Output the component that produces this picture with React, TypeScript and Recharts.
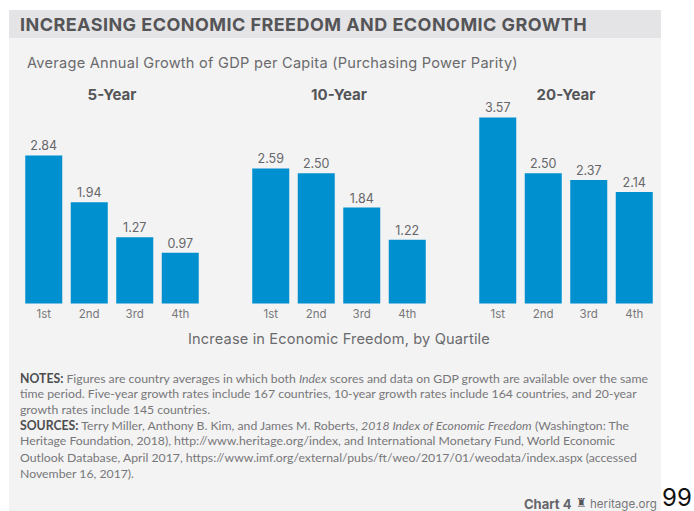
import { Bar, BarChart, LabelList, XAxis, YAxis } from "recharts";
import type { CSSProperties, ReactNode } from "react";

const quartiles = ["1st", "2nd", "3rd", "4th"];
const fiveYear = [2.84, 1.94, 1.27, 0.97];
const tenYear = [2.59, 2.5, 1.84, 1.22];
const twentyYear = [3.57, 2.5, 2.37, 2.14];

const BLUE = "#0090d0";
const FONT = "Inter, 'Open Sans', sans-serif";
const BODY_FONT = "Lato, 'Open Sans', sans-serif";

const toRows = (values: number[]) =>
  quartiles.map((quartile, i) => ({ quartile, value: values[i] }));

const at = (left: number, top: number, style: CSSProperties): CSSProperties => ({
  position: "absolute",
  left,
  top,
  whiteSpace: "nowrap",
  fontFamily: FONT,
  ...style,
});

const Panel = ({ left, title, values }: { left: number; title: string; values: number[] }) => (
  <div style={{ position: "absolute", left, top: 0 }}>
    <div
      style={{
        position: "absolute",
        left: 0,
        width: 182,
        top: 87,
        textAlign: "center",
        fontFamily: FONT,
        fontWeight: 700,
        fontSize: 15,
        lineHeight: "16px",
        color: "#555558",
      }}
    >
      {title}
    </div>
    {/* plot runs from y=95 to the baseline at y=303, 52.1px per unit */}
    <div style={{ position: "absolute", left: 0, top: 94.6 }}>
      <BarChart
        width={182}
        height={230}
        data={toRows(values)}
        margin={{ top: 0, right: 0, bottom: 0, left: 0 }}
        barCategoryGap={4.25}
      >
        <YAxis hide domain={[0, 4]} />
        <XAxis
          dataKey="quartile"
          axisLine={false}
          tickLine={false}
          height={21.6}
          tickMargin={0}
          tick={{ fontSize: 11.5, fill: "#77777a", fontFamily: FONT }}
          interval={0}
        />
        <Bar dataKey="value" fill={BLUE} isAnimationActive={false}>
          <LabelList
            dataKey="value"
            position="top"
            offset={5}
            formatter={(v: number) => v.toFixed(2)}
            style={{ fontSize: 12.5, fill: "#66666a", fontFamily: FONT }}
          />
        </Bar>
      </BarChart>
    </div>
  </div>
);

const NoteLine = ({ top, children }: { top: number; children: ReactNode }) => (
  <div
    style={at(20, top, {
      fontFamily: BODY_FONT,
      fontSize: 12.25,
      lineHeight: "16px",
      color: "#77777a",
    })}
  >
    {children}
  </div>
);

const Strong = ({ children }: { children: ReactNode }) => (
  <b style={{ color: "#4d4d50" }}>{children}</b>
);

export default function App() {
  return (
    <div
      style={{
        position: "absolute",
        left: 0,
        top: 0,
        width: 694,
        height: 511,
        overflow: "hidden",
        background: "#fff",
      }}
    >
      <div style={{ position: "absolute", left: 9, top: 10, width: 652, height: 501, background: "#f3f3f3" }} />
      <div style={{ position: "absolute", left: 9, top: 10, width: 652, height: 28, background: "#e4e4e6" }} />

      <div
        style={at(20, 15, {
          fontWeight: 700,
          fontSize: 18,
          lineHeight: "20px",
          letterSpacing: 0.45,
          color: "#555558",
        })}
      >
        INCREASING ECONOMIC FREEDOM AND ECONOMIC GROWTH
      </div>
      <div style={at(27, 54, { fontSize: 14.6, lineHeight: "18px", letterSpacing: 0.25, color: "#6a6a6d" })}>
        Average Annual Growth of GDP per Capita (Purchasing Power Parity)
      </div>

      <Panel left={21} title="5-Year" values={fiveYear} />
      <Panel left={248} title="10-Year" values={tenYear} />
      <Panel left={475} title="20-Year" values={twentyYear} />

      <div style={at(188, 330, { fontSize: 14.6, lineHeight: "18px", letterSpacing: 0.15, color: "#6a6a6d" })}>
        Increase in Economic Freedom, by Quartile
      </div>

      <NoteLine top={371}>
        <Strong>NOTES:</Strong> Figures are country averages in which both <i>Index</i> scores and data on GDP growth are available over the same
      </NoteLine>
      <NoteLine top={386}>
        time period. Five-year growth rates include 167 countries, 10-year growth rates include 164 countries, and 20-year
      </NoteLine>
      <NoteLine top={402}>growth rates include 145 countries.</NoteLine>
      <NoteLine top={418}>
        <Strong>SOURCES:</Strong> Terry Miller, Anthony B. Kim, and James M. Roberts, <i>2018 Index of Economic Freedom</i> (Washington: The
      </NoteLine>
      <NoteLine top={433}>
        Heritage Foundation, 2018), http://www.heritage.org/index, and International Monetary Fund, World Economic
      </NoteLine>
      <NoteLine top={450}>
        Outlook Database, April 2017, https://www.imf.org/external/pubs/ft/weo/2017/01/weodata/index.aspx (accessed
      </NoteLine>
      <NoteLine top={466}>November 16, 2017).</NoteLine>

      <div style={at(524, 497, { fontWeight: 700, fontSize: 13, lineHeight: "15px", color: "#66666a" })}>Chart 4</div>
      <div style={at(576, 496, { fontFamily: "'DejaVu Sans'", fontSize: 12, lineHeight: "15px", color: "#555558" })}>♜</div>
      <div style={at(590, 497, { fontSize: 11.6, lineHeight: "15px", color: "#77777a" })}>heritage.org</div>
      <div style={at(662, 486, { fontSize: 24, lineHeight: "23px", color: "#111" })}>99</div>
    </div>
  );
}
